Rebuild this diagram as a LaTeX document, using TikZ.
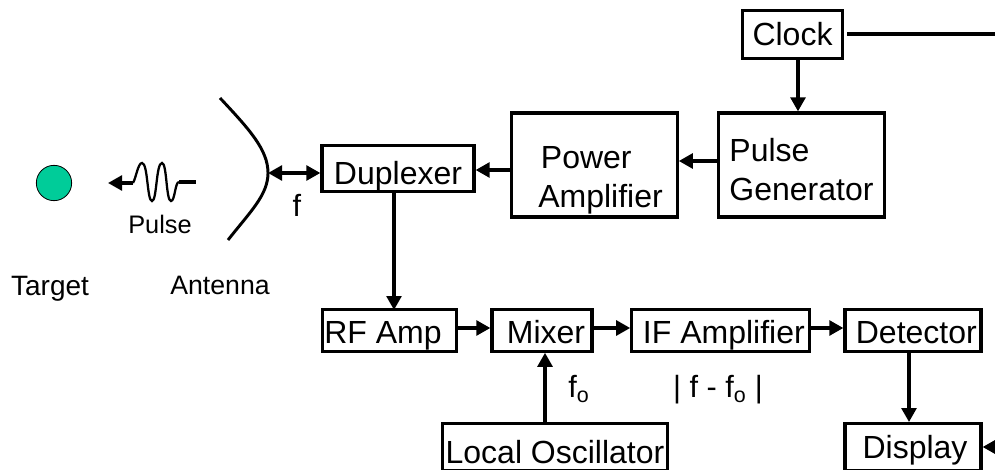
\documentclass[tikz,border=0pt]{standalone}
\usepackage{fontspec}
\setmainfont{Liberation Sans}
\usetikzlibrary{arrows.meta}
\definecolor{targetgreen}{HTML}{00CC99}
\begin{document}
\begin{tikzpicture}[x=0.75pt,y=-0.75pt]
	\tikzstyle{block}=[rectangle,draw=black,line width=2.4pt,inner sep=0pt,font=\fontsize{24}{29}\selectfont,fill=white]
	\tikzstyle{drop}=[text height=2*#1,text depth=0pt]
	\tikzstyle{label}=[inner sep=0pt,font=\fontsize{23}{27}\selectfont]
	\tikzstyle{small}=[inner sep=0pt,font=\fontsize{19}{23}\selectfont]
	\tikzstyle{wire}=[line width=2.6pt,-{Triangle[length=10.5pt,width=11pt]}]
	\tikzstyle{plainwire}=[line width=2.6pt]
	\useasboundingbox (0,0) rectangle (995,470);
	\node[block,drop=8pt,minimum width=75pt,minimum height=36pt] (clock) at (792.5,34.5) {Clock};
	\node[block,minimum width=125pt,minimum height=78pt,align=left] (pulsegen) at (801.5,165) {Pulse\rule{0pt}{24pt}\\Generator};
	\node[block,minimum width=124pt,minimum height=78pt,align=left] (poweramp) at (594.5,165) {\hspace*{11pt}Power\rule{0pt}{39pt}\\\hspace*{9pt}Amplifier};
	\node[block,drop=12pt,minimum width=114pt,minimum height=35pt] (duplexer) at (398,168.5) {Duplexer};
	\node[block,drop=9.4pt,minimum width=101pt,minimum height=31pt] (rfamp) at (389.5,330.5) {RF Amp\hspace*{9.7pt}};
	\node[block,drop=9.4pt,minimum width=75pt,minimum height=31pt] (mixer) at (542,330.5) {\hspace*{6pt}Mixer};
	\node[block,drop=9.4pt,minimum width=133pt,minimum height=31pt] (ifamp) at (720.5,330.5) {\hspace*{5pt}IF Amplifier};
	\node[block,drop=9.4pt,minimum width=102pt,minimum height=31pt] (detector) at (913,330.5) {\hspace*{5pt}Detector};
	\node[block,drop=8.3pt,minimum width=102pt,minimum height=35pt] (display) at (913,447) {\hspace*{3pt}Display};
	\node[block,drop=12pt,minimum width=169pt,minimum height=35pt] (localosc) at (555,447) {Local Oscillator};
	\node[circle,draw=black,line width=0.6pt,fill=targetgreen,minimum size=26.5pt,inner sep=0pt] (target) at (54,183) {};
	\node[small] (pulselabel) at (160,224) {Pulse};
	\node[small,font=\fontsize{21}{25}\selectfont] (targetlabel) at (50,289) {Target};
	\node[small,font=\fontsize{20}{24}\selectfont] (antennalabel) at (220,285) {Antenna};
	\node[label] (flabel) at (297,205) {f};
	\node[label] (folabel) at (579,389) {f\textsubscript{o}};
	\node[label] (difflabel) at (718,390) {| f - f\textsubscript{o} |};
	\coordinate (clockend) at (995,34);
	\coordinate (clockstart) at (847,34);
	\coordinate (displayin) at (995,447);
	\coordinate (feed) at (268,173);
	\coordinate (wavestart) at (133,183);
	\coordinate (wavetip) at (108,183);
	\coordinate (waveend) at (179,182);
	\coordinate (wavetail) at (196,182);
	% antenna dish
	\draw[line width=2.2pt] (220,98) .. controls (250,130) and (268,150) .. (feed) .. controls (268,195) and (250,212) .. (228,240);
	% pulse
	\draw[line width=1.7pt] (wavestart) .. controls (136,178) and (138,163) .. (142,163) .. controls (148,163) and (147,201) .. (152,201) .. controls (157,201) and (156,163) .. (162,163) .. controls (167,163) and (166,201) .. (171,201) .. controls (175,201) and (175,182) .. (waveend);
	\draw[plainwire] (waveend) -- (wavetail);
	\draw[wire] (wavestart) -- (wavetip);
	% links
	\draw[plainwire] (clockstart) -- (clockend);
	\draw[wire] (clock.south -| 798,0) -- (pulsegen.north -| 798,0);
	\draw[wire] (pulsegen.west |- 0,161) -- (poweramp.east |- 0,161);
	\draw[wire] (poweramp.west |- 0,170) -- (duplexer.east |- 0,170);
	\draw[wire,{Triangle[length=10.5pt,width=11pt]}-{Triangle[length=10.5pt,width=11pt]}] (feed) -- (duplexer.west |- feed);
	\draw[wire] (394,192) -- (394,310);
	\draw[wire] (rfamp.east |- 0,328) -- (mixer.west |- 0,328);
	\draw[wire] (mixer.east |- 0,328) -- (ifamp.west |- 0,328);
	\draw[wire] (ifamp.east |- 0,328) -- (detector.west |- 0,328);
	\draw[wire] (detector.south -| 909,0) -- (display.north -| 909,0);
	\draw[wire] (localosc.north -| 545,0) -- (mixer.south -| 545,0);
	\draw[wire] (displayin) -- (display.east);
\end{tikzpicture}
\end{document}
